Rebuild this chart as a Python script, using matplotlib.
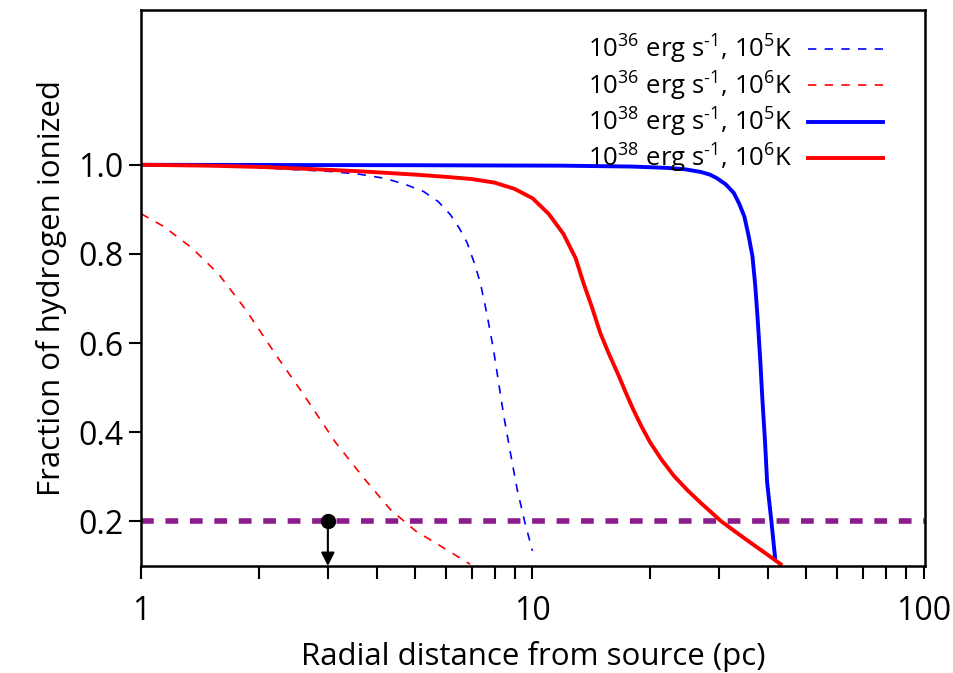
import matplotlib
matplotlib.use("Agg")
import matplotlib.pyplot as plt

plt.rcParams['font.family'] = ['Open Sans', 'DejaVu Sans']
plt.rcParams['mathtext.default'] = 'regular'

# ---- data ----
# 10^36 erg/s, 10^5 K (blue dashed)
r_36_5 = [1.0, 1.5, 2.05, 3.04, 3.6, 4.17, 4.7, 5.27, 5.75, 6.17, 6.5, 6.81, 7.1, 7.36,
          7.65, 7.95, 8.2, 8.45, 8.8, 9.14, 9.55, 10.0]
f_36_5 = [1.0, 0.998, 0.993, 0.985, 0.979, 0.970, 0.957, 0.94, 0.917, 0.888, 0.858, 0.825,
          0.78, 0.735, 0.665, 0.586, 0.51, 0.436, 0.35, 0.272, 0.2, 0.134]

# 10^36 erg/s, 10^6 K (red dashed)
r_36_6 = [1.0, 1.14, 1.35, 1.58, 1.85, 2.22, 2.58, 3.14, 3.70, 4.33, 5.02, 5.82, 6.93]
f_36_6 = [0.89, 0.862, 0.813, 0.754, 0.675, 0.571, 0.489, 0.377, 0.298, 0.227, 0.179,
          0.145, 0.104]

# 10^38 erg/s, 10^5 K (blue solid)
r_38_5 = [1.0, 5.0, 12.0, 18.0, 22.1, 24.5, 26.9, 28.4, 29.6, 31.2, 32.7, 33.8, 34.8,
          35.7, 36.5, 37.1, 37.6, 38.2, 38.7, 39.3, 39.8, 40.8, 41.7]
f_38_5 = [1.0, 0.999, 0.998, 0.996, 0.993, 0.99, 0.984, 0.978, 0.970, 0.956, 0.937, 0.912,
          0.884, 0.84, 0.795, 0.73, 0.66, 0.565, 0.474, 0.38, 0.287, 0.201, 0.119]

# 10^38 erg/s, 10^6 K (red solid)
r_38_6 = [1.0, 1.5, 2.05, 2.8, 3.7, 5.0, 6.0, 7.0, 8.0, 9.0, 10.0, 11.0, 12.0, 12.9,
          13.5, 14.2, 14.9, 15.7, 16.5, 17.3, 18.1, 19.0, 20.0, 21.4, 23.0, 24.9,
          26.9, 30.3, 33.0, 36.0, 39.5, 43.1]
f_38_6 = [1.0, 0.998, 0.995, 0.99, 0.985, 0.978, 0.973, 0.968, 0.960, 0.946, 0.925, 0.89,
          0.845, 0.79, 0.735, 0.68, 0.623, 0.575, 0.533, 0.49, 0.451, 0.413, 0.377,
          0.338, 0.302, 0.27, 0.242, 0.201, 0.177, 0.153, 0.128, 0.104]

labels = ['$10^{36}$ erg s$^{\u2010' + '1}$, $10^{5}$K',
          '$10^{36}$ erg s$^{\u2010' + '1}$, $10^{6}$K',
          '$10^{38}$ erg s$^{\u2010' + '1}$, $10^{5}$K',
          '$10^{38}$ erg s$^{\u2010' + '1}$, $10^{6}$K']

threshold = 0.2
point_r = 3.0

fig = plt.figure(figsize=(9.54, 6.73), dpi=100)
ax = fig.add_axes([0.148, 0.159, 0.822, 0.826])

ax.plot(r_36_5, f_36_5, color='#0000ff', lw=1.2, dashes=(5, 5), label=labels[0])
ax.plot(r_36_6, f_36_6, color='#ff0000', lw=1.2, dashes=(5, 5), label=labels[1])
ax.plot(r_38_5, f_38_5, color='#0000ff', lw=2.8, label=labels[2])
ax.plot(r_38_6, f_38_6, color='#ff0000', lw=2.8, label=labels[3])

ax.axhline(threshold, color='#8c1c8c', lw=4, dashes=(2.3, 2.1), zorder=1)

ax.plot([point_r], [threshold], 'o', color='black', ms=10, zorder=5)
ax.annotate('', xy=(point_r, 0.1), xytext=(point_r, threshold),
            arrowprops=dict(arrowstyle='-|>', color='black', lw=1.5,
                            mutation_scale=20, shrinkA=0, shrinkB=0))

ax.set_xscale('log')
ax.set_xlim(1, 101)
ax.set_ylim(0.1, 1.347)
ax.set_yticks([0.2, 0.4, 0.6, 0.8, 1.0])
ax.set_xticks([1, 10, 100])
ax.set_xticklabels(['1', '10', '100'])
ax.tick_params(axis='both', which='major', labelsize=23, length=9, width=1.5, direction='out')
ax.tick_params(axis='x', which='minor', length=9, width=1.5, direction='out')
ax.tick_params(axis='x', pad=12)
for s in ax.spines.values():
    s.set_linewidth(1.8)

ax.set_xlabel('Radial distance from source (pc)', fontsize=22.5, labelpad=9)
ax.set_ylabel('Fraction of hydrogen ionized', fontsize=22.5, labelpad=8)

ax.legend(loc='upper right', bbox_to_anchor=(0.975, 1.0), frameon=False, fontsize=18.5,
          markerfirst=False, handlelength=2.9, labelspacing=0.12, handletextpad=0.6)

fig.savefig('out.png', dpi=100)
